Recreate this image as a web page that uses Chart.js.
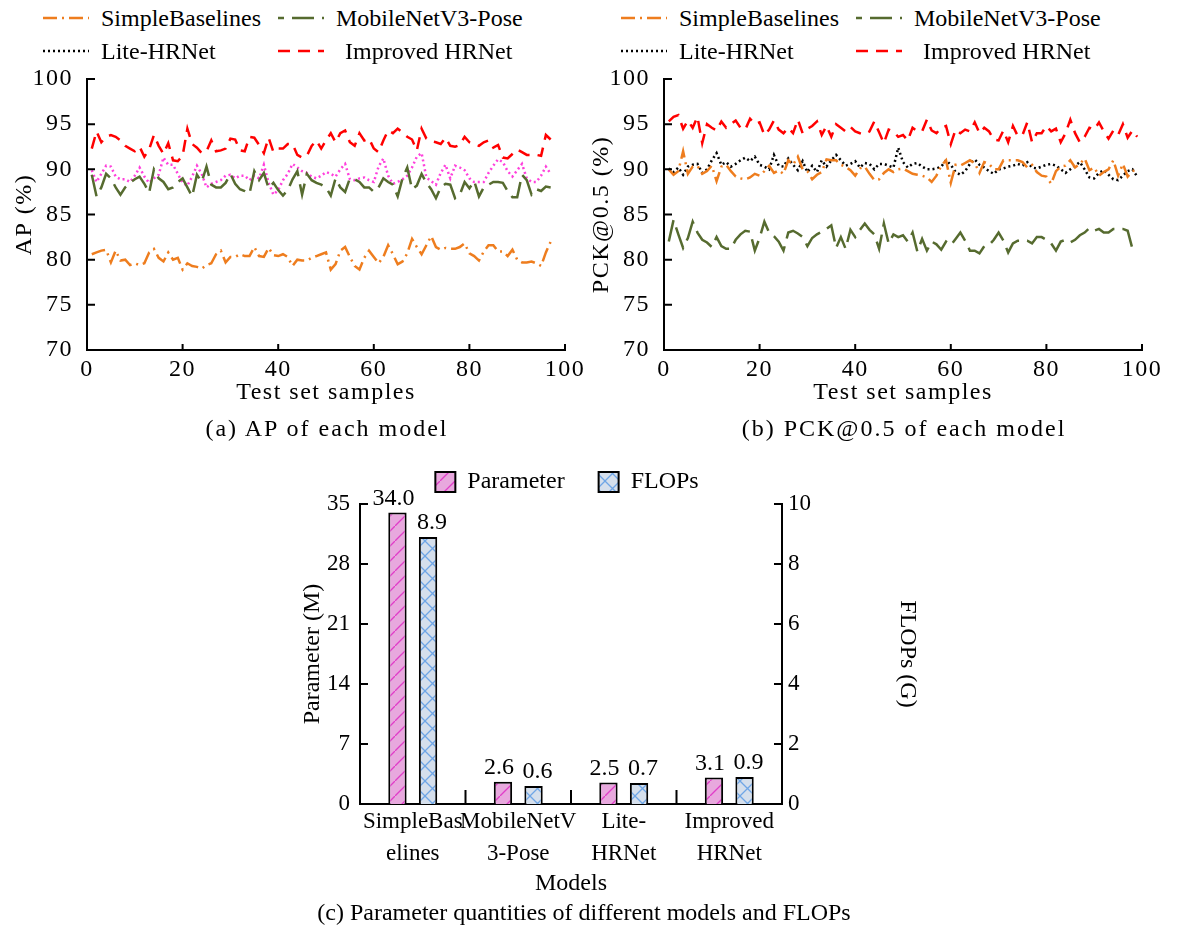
<!DOCTYPE html>
<html>
<head>
<meta charset="utf-8">
<script src="https://cdn.jsdelivr.net/npm/chart.js@4.4.1/dist/chart.umd.min.js"></script>
<style>
  body { margin: 0; background: #fff; }
  #fig { position: relative; width: 1180px; height: 927px; overflow: hidden;
         font-family: "Liberation Serif", "Times New Roman", serif; color: #000; }
  canvas { position: absolute; }
  .leg { position: absolute; display: flex; align-items: center; font-size: 24px; line-height: 28px; white-space: nowrap; }
  .cap { position: absolute; font-size: 24px; line-height: 28px; white-space: nowrap; transform: translateX(-50%); }
  .wide { letter-spacing: 2px; }
</style>
</head>
<body>
<div id="fig">
  <canvas id="apChart" width="590" height="350" style="left:0;top:60px"></canvas>
  <canvas id="pckChart" width="590" height="350" style="left:577px;top:60px"></canvas>
  <canvas id="costChart" width="700" height="464" style="left:260px;top:436px"></canvas>
  <div class="cap wide" style="left:327px;top:414px">(a) AP of each model</div>
  <div class="cap wide" style="left:904px;top:414px">(b) PCK@0.5 of each model</div>
  <div class="cap" style="left:584px;top:898px">(c) Parameter quantities of different models and FLOPs</div>
</div>
<script>
// per-sample AP (%) on the test set, samples 1..97
const apSimple = [80.6, 80.8, 81.0, 81.1, 79.7, 81.0, 79.9, 80.0, 79.4, 79.6,
  79.4, 79.6, 80.8, 81.2, 80.2, 79.8, 80.8, 80.0, 80.2, 78.9,
  79.6, 79.3, 79.2, 79.0, 79.4, 79.6, 80.6, 81.0, 79.7, 80.3,
  80.3, 80.6, 80.4, 80.4, 81.4, 80.4, 80.3, 81.3, 80.5, 80.4,
  80.6, 80.3, 79.3, 80.0, 79.9, 79.9, 80.2, 80.4, 80.6, 80.8,
  78.9, 79.5, 81.0, 81.4, 80.3, 79.3, 78.9, 80.2, 81.0, 80.3,
  79.6, 80.3, 81.6, 80.6, 79.5, 79.8, 80.7, 82.3, 81.4, 80.6,
  81.6, 82.6, 81.4, 81.1, 81.3, 81.2, 81.2, 81.4, 81.8, 80.7,
  80.4, 79.9, 80.9, 81.6, 81.6, 80.9, 80.9, 80.4, 81.1, 80.0,
  79.7, 79.7, 79.8, 79.6, 79.3, 80.8, 82.0];
const apMobile = [89.4, 87.0, 88.0, 89.5, 89.0, 88.0, 87.2, 88.0, 88.5, 88.9,
  89.2, 88.4, 87.4, 90.0, 89.0, 88.6, 87.8, 88.0, 88.6, 89.0,
  88.0, 87.0, 89.4, 88.6, 90.3, 88.3, 88.0, 88.0, 88.5, 89.5,
  88.4, 87.8, 87.6, 87.3, 89.8, 88.8, 89.6, 87.9, 88.5, 87.7,
  87.1, 87.7, 88.9, 89.8, 87.2, 89.5, 88.8, 88.5, 88.3, 88.0,
  87.1, 89.0, 88.0, 87.5, 89.0, 88.9, 88.6, 88.0, 88.0, 87.5,
  88.0, 89.0, 88.6, 88.3, 87.0, 89.0, 90.2, 87.8, 88.2, 89.5,
  88.5, 87.8, 86.8, 88.0, 88.4, 88.3, 86.8, 87.2, 88.6, 87.9,
  88.7, 87.0, 88.0, 88.3, 88.6, 88.6, 88.5, 87.6, 86.9, 86.9,
  89.4, 88.8, 87.2, 87.8, 87.6, 88.1, 88.0];
const apLite = [89.9, 88.6, 89.5, 90.4, 90.3, 89.2, 88.9, 88.9, 88.6, 89.3,
  90.2, 89.2, 88.5, 89.0, 89.4, 91.3, 90.5, 90.5, 89.5, 88.5,
  88.2, 89.2, 90.4, 89.5, 88.0, 88.4, 88.6, 88.8, 89.3, 89.4,
  89.0, 89.3, 89.3, 88.8, 89.3, 89.0, 90.5, 88.5, 87.2, 87.7,
  88.8, 89.5, 90.6, 90.2, 89.8, 89.6, 89.2, 89.0, 89.3, 89.7,
  89.5, 89.2, 90.0, 90.6, 88.9, 88.8, 89.0, 89.1, 88.8, 88.6,
  90.3, 91.2, 89.3, 88.4, 88.6, 88.9, 89.3, 90.2, 91.4, 91.8,
  89.1, 88.7, 88.3, 89.6, 90.5, 89.0, 90.4, 90.2, 89.9, 89.0,
  88.6, 88.6, 88.6, 89.6, 90.4, 91.1, 90.8, 89.8, 89.2, 89.9,
  90.6, 89.0, 88.6, 88.6, 89.3, 90.3, 89.5];
const apImproved = [92.3, 94.2, 93.0, 93.6, 93.8, 93.6, 93.2, 92.6, 92.3, 92.0,
  92.5, 91.4, 92.2, 93.8, 92.6, 91.7, 92.9, 91.0, 90.9, 91.5,
  94.5, 92.8, 92.4, 91.8, 92.0, 93.2, 92.0, 92.1, 92.3, 93.4,
  93.3, 92.1, 92.0, 93.6, 93.5, 92.7, 91.8, 93.5, 91.9, 92.3,
  92.3, 92.8, 92.8, 91.6, 91.3, 91.5, 92.6, 93.2, 92.3, 93.2,
  94.0, 93.0, 94.0, 94.3, 93.0, 92.6, 94.0, 93.2, 93.4, 92.3,
  91.9, 93.2, 94.3, 94.0, 94.5, 94.1, 93.6, 93.3, 92.1, 94.5,
  93.4, 93.1, 93.0, 92.8, 93.5, 92.6, 92.5, 92.7, 93.6, 93.0,
  92.8, 92.6, 93.0, 93.2, 92.4, 92.7, 91.3, 91.2, 91.7, 92.2,
  91.9, 91.6, 91.6, 91.6, 91.5, 93.8, 93.3];

// per-sample PCK@0.5 (%), samples 1..99
const pckSimple = [90.0, 89.4, 89.8, 92.0, 89.5, 90.3, 90.4, 89.5, 89.8, 90.4,
  88.7, 90.3, 90.5, 89.8, 89.2, 89.0, 88.9, 89.1, 89.5, 89.3,
  89.8, 90.4, 89.6, 89.9, 89.5, 91.0, 90.5, 91.4, 90.0, 89.8,
  88.9, 89.4, 89.7, 91.1, 91.0, 91.0, 90.5, 90.3, 89.9, 89.3,
  90.1, 90.3, 89.5, 88.8, 88.9, 89.6, 90.0, 89.7, 90.0, 90.1,
  89.8, 89.5, 89.4, 89.3, 89.1, 88.6, 89.3, 90.4, 91.0, 88.5,
  90.5, 90.4, 90.7, 91.0, 90.7, 89.6, 90.8, 90.6, 90.0, 90.0,
  91.0, 91.0, 91.0, 91.0, 90.8, 90.2, 90.5, 89.7, 89.3, 89.2,
  88.4, 89.8, 90.3, 90.4, 91.0, 90.2, 90.6, 91.2, 89.9, 90.2,
  89.3, 89.7, 90.0, 91.0, 89.3, 90.6, 89.2, 89.8, 90.0];
const pckMobile = [82.0, 84.4, 82.8, 81.3, 82.4, 84.2, 83.0, 82.2, 81.9, 81.4,
  82.5, 81.5, 81.2, 81.2, 82.2, 82.8, 83.2, 83.1, 81.0, 82.4,
  84.2, 83.0, 82.6, 82.0, 81.0, 83.0, 83.2, 82.9, 82.5, 81.5,
  82.4, 82.8, 83.1, 83.4, 83.8, 81.3, 82.5, 81.2, 83.3, 82.5,
  83.3, 84.0, 83.3, 82.8, 81.2, 84.0, 81.8, 82.8, 82.5, 82.7,
  82.0, 83.0, 80.9, 82.3, 81.0, 82.0, 81.7, 81.1, 82.0, 81.6,
  82.3, 83.0, 82.1, 81.0, 81.0, 80.7, 81.5, 81.6, 82.2, 83.0,
  82.1, 80.8, 81.8, 82.1, 82.1, 82.1, 81.8, 82.5, 82.5, 82.2,
  81.8, 81.0, 82.0, 82.2, 81.9, 82.2, 82.7, 83.0, 83.5, 83.2,
  83.4, 83.0, 83.0, 83.4, 83.4, 83.4, 83.2, 81.2, 81.5];
const pckLite = [90.1, 89.7, 90.2, 89.4, 90.3, 90.5, 90.6, 89.6, 90.0, 91.0,
  91.8, 90.5, 90.8, 90.3, 90.6, 91.0, 91.3, 90.9, 91.4, 90.5,
  90.3, 90.0, 91.6, 90.4, 90.3, 91.2, 90.5, 89.9, 90.9, 89.7,
  90.4, 89.7, 91.0, 90.3, 91.0, 91.6, 91.0, 90.4, 90.6, 90.9,
  90.2, 90.7, 90.6, 90.0, 90.6, 90.6, 90.4, 90.2, 92.4, 90.8,
  90.2, 90.6, 90.7, 90.3, 90.0, 90.0, 90.1, 90.3, 91.0, 90.5,
  89.7, 89.4, 89.8, 90.6, 91.1, 90.5, 90.2, 89.8, 89.5, 90.0,
  90.1, 90.3, 90.4, 90.6, 90.4, 90.8, 90.2, 90.1, 90.3, 90.5,
  90.6, 90.4, 90.0, 89.6, 90.0, 90.4, 90.8, 90.0, 89.1, 89.0,
  89.6, 89.9, 89.4, 88.9, 88.8, 89.3, 89.8, 90.0, 89.2];
const pckImproved = [95.3, 95.8, 96.0, 94.5, 95.4, 94.6, 95.8, 92.9, 95.0, 94.6,
  94.3, 95.3, 94.6, 95.0, 95.4, 94.6, 94.4, 95.6, 95.0, 95.2,
  93.8, 94.4, 95.4, 94.4, 94.0, 94.6, 94.0, 95.5, 94.0, 94.5,
  94.8, 95.3, 93.8, 94.8, 93.6, 95.0, 94.6, 94.2, 94.7, 94.2,
  94.0, 93.9, 94.2, 95.3, 94.1, 92.9, 94.4, 94.2, 93.6, 93.8,
  93.2, 94.6, 94.2, 94.2, 95.5, 94.3, 94.0, 94.6, 94.8, 92.8,
  94.4, 94.0, 94.4, 94.2, 95.2, 94.0, 94.6, 94.2, 93.3, 93.2,
  94.3, 93.0, 94.8, 93.7, 93.8, 95.2, 93.0, 94.0, 94.0, 94.8,
  94.2, 94.5, 93.0, 94.0, 95.5, 94.0, 93.0, 93.6, 94.6, 94.4,
  95.2, 94.2, 93.4, 94.3, 93.8, 95.0, 93.5, 94.3, 93.6];

// model size and compute
const models = [['SimpleBas', 'elines'], ['MobileNetV', '3-Pose'], ['Lite-', 'HRNet'], ['Improved', 'HRNet']];
const paramM = [34.0, 2.6, 2.5, 3.1];
const flopsG = [8.9, 0.6, 0.7, 0.9];

const FONT = '"Liberation Serif", "Times New Roman", serif';
Chart.defaults.font.family = FONT;
Chart.defaults.color = '#000';

const styles = {
  simple:   { label: 'SimpleBaselines',  color: '#ee7d1e', dash: [14, 5, 2, 5], legendOffset: 0 },
  mobile:   { label: 'MobileNetV3-Pose', color: '#566b2f', dash: [22, 8], legendOffset: 16 },
  lite:     { label: 'Lite-HRNet',       color: '#000000', dash: [2, 3], legendOffset: 0 },
  improved: { label: 'Improved HRNet',   color: '#ff0000', dash: [12, 8], legendOffset: 0 }
};

// short tick marks pointing into the plot area
const inwardTicks = {
  id: 'inwardTicks',
  afterDatasetsDraw(chart, args, opts) {
    const { ctx, chartArea: area } = chart;
    ctx.save();
    ctx.strokeStyle = '#000';
    ctx.lineWidth = 2;
    ctx.beginPath();
    Object.values(chart.scales).forEach(scale => {
      if (scale.isHorizontal()) {
        let xs = [];
        if (scale.type === 'category') {
          for (let i = 1; i < scale.ticks.length; i++) {
            xs.push((scale.getPixelForTick(i - 1) + scale.getPixelForTick(i)) / 2);
          }
        } else {
          xs = scale.ticks.map((t, i) => scale.getPixelForTick(i));
        }
        xs.forEach(x => { ctx.moveTo(x, area.bottom); ctx.lineTo(x, area.bottom - opts.x); });
      } else {
        const left = scale.position === 'left';
        const x0 = left ? area.left : area.right;
        scale.ticks.forEach((t, i) => {
          const y = scale.getPixelForTick(i);
          ctx.moveTo(x0, y);
          ctx.lineTo(x0 + (left ? opts.y : -opts.y), y);
        });
      }
    });
    ctx.stroke();
    ctx.restore();
  }
};

// looser tracking for axis text only
const spacedText = {
  id: 'spacedText',
  beforeDraw(chart, args, opts) { chart.ctx.letterSpacing = opts.spacing || '0px'; },
  beforeDatasetsDraw(chart) { chart.ctx.letterSpacing = '0px'; }
};

// value printed above each bar
const barValues = {
  id: 'barValues',
  afterDatasetsDraw(chart, args, opts) {
    const { ctx } = chart;
    ctx.save();
    ctx.font = '24px ' + FONT;
    ctx.fillStyle = '#000';
    ctx.textAlign = 'center';
    ctx.textBaseline = 'bottom';
    chart.data.datasets.forEach((ds, di) => {
      chart.getDatasetMeta(di).data.forEach((bar, i) => {
        ctx.fillText(ds.data[i].toFixed(1), bar.x + opts.shift[di], bar.y - 2);
      });
    });
    ctx.restore();
  }
};

// keep the legend centred over the plot instead of the canvas
const centerLegend = {
  id: 'centerLegend',
  afterLayout(chart) {
    const lg = chart.legend, a = chart.chartArea;
    const dx = (a.left + a.right) / 2 - (lg.left + lg.right) / 2 - 4;
    lg.left += dx;
    lg.right += dx;
  }
};

const axisBorder = { display: true, color: '#000', width: 2 };
const noGrid = { display: false, drawTicks: false };

function fixSize(prop, size) {
  return s => {
    s[prop] = size;
    s.paddingTop = 0; s.paddingBottom = 0; s.paddingLeft = 0; s.paddingRight = 0;
  };
}

function series(values) {
  return values.map((v, i) => ({ x: i + 1, y: v }));
}

function lineChart(id, sets, yTitle) {
  return new Chart(document.getElementById(id), {
    type: 'line',
    data: {
      datasets: sets.map(s => ({
        label: s.style.label,
        data: series(s.values),
        borderColor: s.color || s.style.color,
        borderDash: s.style.dash,
        borderWidth: 2.5,
        pointRadius: 0,
        tension: 0,
        fill: false
      }))
    },
    options: {
      responsive: false,
      animation: false,
      layout: { padding: { top: 19, right: 25, left: 0, bottom: 0 } },
      plugins: {
        legend: { display: false }, tooltip: { enabled: false },
        inwardTicks: { x: 6, y: 8 }, spacedText: { spacing: '1.5px' }
      },
      scales: {
        x: {
          type: 'linear', min: 0, max: 100,
          grid: noGrid, border: axisBorder,
          ticks: { stepSize: 20, padding: 5, maxRotation: 0, font: { size: 24 } },
          title: { display: true, text: 'Test set samples', font: { size: 24 }, padding: { top: 0, bottom: 3 } },
          afterFit: fixSize('height', 60)
        },
        y: {
          min: 70, max: 100,
          grid: noGrid, border: axisBorder,
          ticks: { stepSize: 5, padding: 14, font: { size: 24 } },
          title: { display: true, text: yTitle, font: { size: 24 }, padding: { top: 10, bottom: 0 } },
          afterFit: fixSize('width', 87)
        }
      }
    },
    plugins: [inwardTicks, spacedText]
  });
}

lineChart('apChart', [
  { style: styles.simple, values: apSimple },
  { style: styles.mobile, values: apMobile },
  { style: styles.lite, values: apLite, color: '#ff40dc' },
  { style: styles.improved, values: apImproved }
], 'AP (%)');

lineChart('pckChart', [
  { style: styles.simple, values: pckSimple },
  { style: styles.mobile, values: pckMobile },
  { style: styles.lite, values: pckLite },
  { style: styles.improved, values: pckImproved }
], 'PCK@0.5 (%)');

// two-column legends above the line charts
const fig = document.getElementById('fig');
function buildLegend(left) {
  const order = [styles.simple, styles.mobile, styles.lite, styles.improved];
  order.forEach((st, i) => {
    const div = document.createElement('div');
    div.className = 'leg';
    div.style.left = (left + (i % 2) * 235) + 'px';
    div.style.top = (4 + Math.floor(i / 2) * 33) + 'px';
    const gap = st === styles.improved ? 21 : 12;
    div.innerHTML = '<svg width="46" height="8" style="margin-right:' + gap + 'px"><line x1="0" y1="4" x2="46" y2="4" stroke="' + st.color +
      '" stroke-width="2.5" stroke-dasharray="' + st.dash.join(' ') + '" stroke-dashoffset="' + st.legendOffset +
      '"/></svg><span>' + st.label + '</span>';
    fig.appendChild(div);
  });
}
buildLegend(43);
buildLegend(621);

// hatch fills for the bars
function hatch(fill, stroke, cross) {
  const s = 15;
  const c = document.createElement('canvas');
  c.width = s; c.height = s;
  const g = c.getContext('2d');
  g.fillStyle = fill;
  g.fillRect(0, 0, s, s);
  g.strokeStyle = stroke;
  g.lineWidth = 1.3;
  g.beginPath();
  g.moveTo(0, s); g.lineTo(s, 0);
  if (cross) { g.moveTo(0, 0); g.lineTo(s, s); }
  g.stroke();
  return g.createPattern(c, 'repeat');
}

new Chart(document.getElementById('costChart'), {
  type: 'bar',
  data: {
    labels: models,
    datasets: [
      { label: 'Parameter', data: paramM, yAxisID: 'y', backgroundColor: hatch('#e8a8de', '#e03ec8', false),
        borderColor: '#000', borderWidth: 2, categoryPercentage: 0.58, barPercentage: 0.6 },
      { label: 'FLOPs', data: flopsG, yAxisID: 'y1', backgroundColor: hatch('#d5dfec', '#6fa6e6', true),
        borderColor: '#000', borderWidth: 2, categoryPercentage: 0.58, barPercentage: 0.6 }
    ]
  },
  options: {
    responsive: false,
    animation: false,
    layout: { padding: 0 },
    plugins: {
      legend: { position: 'top', labels: { boxWidth: 20, boxHeight: 20, padding: 34, font: { size: 24 } } },
      tooltip: { enabled: false },
      inwardTicks: { x: 14, y: 8 },
      barValues: { shift: [-4, 4] }
    },
    scales: {
      x: {
        grid: noGrid, border: axisBorder,
        ticks: { padding: 2, maxRotation: 0, autoSkip: false, font: { size: 23, lineHeight: 1.4 } },
        title: { display: true, text: 'Models', font: { size: 24 }, padding: { top: 0, bottom: 2 } },
        afterFit: fixSize('height', 96)
      },
      y: {
        position: 'left', min: 0, max: 35,
        grid: noGrid, border: axisBorder,
        ticks: { stepSize: 7, padding: 10, font: { size: 23 } },
        title: { display: true, text: 'Parameter (M)', font: { size: 24 }, padding: { top: 38, bottom: 0 } },
        afterFit: fixSize('width', 100)
      },
      y1: {
        position: 'right', min: 0, max: 10,
        grid: noGrid, border: axisBorder,
        ticks: { stepSize: 2, padding: 6, font: { size: 23 } },
        title: { display: true, text: 'FLOPs (G)', font: { size: 24 }, padding: { top: 38, bottom: 0 } },
        afterFit: fixSize('width', 178)
      }
    }
  },
  plugins: [inwardTicks, barValues, centerLegend]
});
</script>
</body>
</html>
